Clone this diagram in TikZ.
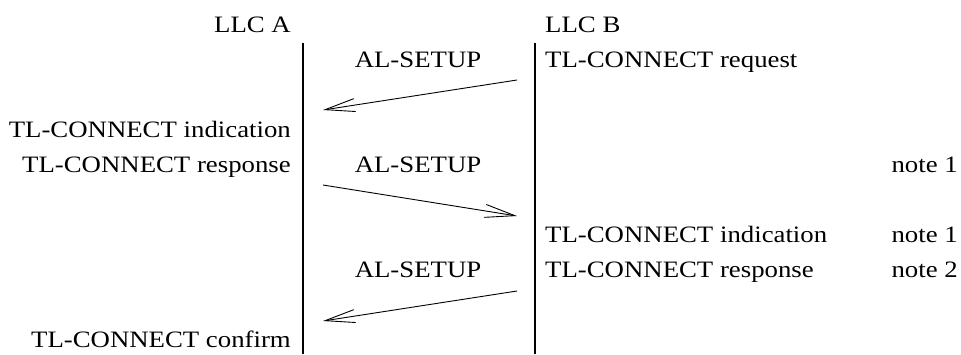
\documentclass[tikz,border=0pt]{standalone}
\usepackage{fontspec}
\setmainfont{Liberation Serif}[FakeStretch=1.14]
\usepackage{tikz}
\usetikzlibrary{arrows.meta}

\tikzset{
  lbl/.style={inner sep=0pt,font=\fontsize{23.5}{28}\selectfont},
  lifeline/.style={line width=1.8pt},
  msg/.style={line width=0.9pt,-{Straight Barb[length=30pt,width=13pt,line width=0.9pt]}}
}

\begin{document}
\begin{tikzpicture}[x=1pt,y=-1pt]
		\useasboundingbox (0,0) rectangle (961,354);
		% the two lifelines
		\coordinate (aTop) at (303,43);
		\coordinate (aBot) at (303,354);
		\coordinate (bTop) at (535,43);
		\coordinate (bBot) at (535,354);
		\draw[lifeline] (aTop) -- (aBot);
		\draw[lifeline] (bTop) -- (bBot);
		% headings
		\node[lbl,anchor=base east] (llcA) at (291,32) {LLC A};
		\node[lbl,anchor=base west] (llcB) at (545,32) {LLC B};
		% primitives at A
		\node[lbl,anchor=base east] (indA) at (291,137) {TL-CONNECT indication};
		\node[lbl,anchor=base east] (respA) at (291,172) {TL-CONNECT response};
		\node[lbl,anchor=base east] (confA) at (291,347) {TL-CONNECT confirm};
		% primitives at B
		\node[lbl,anchor=base west] (reqB) at (545,67) {TL-CONNECT request};
		\node[lbl,anchor=base west] (indB) at (545,242) {TL-CONNECT indication};
		\node[lbl,anchor=base west] (respB) at (545,277) {TL-CONNECT response};
		% notes
		\node[lbl,anchor=base east] (noteA) at (958,172) {note 1};
		\node[lbl,anchor=base east] (noteB) at (958,242) {note 1};
		\node[lbl,anchor=base east] (noteC) at (958,277) {note 2};
		% AL-SETUP messages
		\node[lbl,anchor=base] (setup1) at (418,67) {AL-SETUP};
		\node[lbl,anchor=base] (setup2) at (418,172) {AL-SETUP};
		\node[lbl,anchor=base] (setup3) at (418,277) {AL-SETUP};
		\coordinate (m1s) at (517,80);
		\coordinate (m1e) at (323,110);
		\coordinate (m2s) at (323,185);
		\coordinate (m2e) at (517,216);
		\coordinate (m3s) at (517,291);
		\coordinate (m3e) at (323,321);
		\draw[msg] (m1s) -- (m1e);
		\draw[msg] (m2s) -- (m2e);
		\draw[msg] (m3s) -- (m3e);
	\end{tikzpicture}
\end{document}
